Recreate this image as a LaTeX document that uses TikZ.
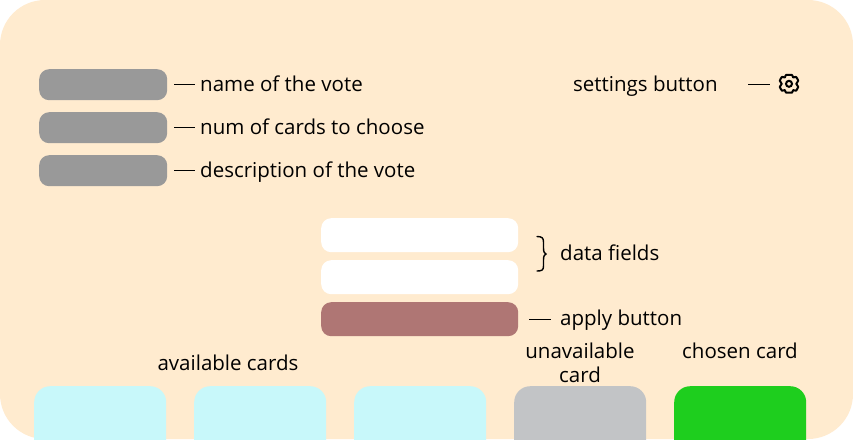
\documentclass[tikz,border=0pt]{standalone}
\usepackage{fontspec}
\setmainfont{Open Sans}
\definecolor{bgc}{HTML}{FFEBCF}
\definecolor{barc}{HTML}{999999}
\definecolor{btnc}{HTML}{AF7674}
\definecolor{cyanc}{HTML}{C8F8FA}
\definecolor{unavc}{HTML}{C2C4C6}
\definecolor{chosenc}{HTML}{1ECE1E}
\tikzset{
  x=1pt,y=-1pt,
  barbox/.style={fill=barc,rounded corners=10pt,minimum width=128pt,minimum height=31pt,inner sep=0pt,anchor=north west},
  fieldbox/.style={fill=white,rounded corners=10pt,minimum width=197pt,minimum height=34pt,inner sep=0pt,anchor=north west},
  lab/.style={font=\fontsize{20.5}{24}\selectfont,inner sep=0pt,text height=14pt,text depth=4pt,anchor=west,text=black},
  clab/.style={font=\fontsize{20.5}{24}\selectfont,inner sep=0pt,align=center,text=black},
  tick/.style={draw=black,line width=1pt},
}
\begin{document}
\begin{tikzpicture}
\useasboundingbox (0,0) rectangle (853,439);
\fill[white] (0,0) rectangle (853,439);
\fill[bgc,rounded corners=45pt] (0,0) rectangle (853,439);
% cards
\begin{scope}
\clip (0,0) rectangle (853,439);
\foreach \n/\xx/\cc in {c1/34/cyanc,c2/194/cyanc,c3/354/cyanc,c4/514/unavc,c5/674/chosenc}{
  \node[fill=\cc,rounded corners=16pt,minimum width=132pt,minimum height=80pt,inner sep=0pt,anchor=north west] (\n) at (\xx,386) {};
}
\end{scope}
% left bars
\node[barbox] (b1) at (39,69) {};
\node[barbox] (b2) at (39,112) {};
\node[barbox] (b3) at (39,155) {};
\node[lab] (l1) at (200,86.3) {name of the vote};
\node[lab] (l2) at (200,129.3) {num of cards to choose};
\node[lab] (l3) at (200,172.3) {description of the vote};
\foreach \i in {1,2,3}{
  \draw[tick] ([xshift=7pt]b\i.east) -- ([xshift=-5pt]b\i.east -| l\i.west);
}
% settings
\node[lab] (l4) at (573,86.3) {settings button};
\coordinate (g) at (789,83.8);
\coordinate (t4) at (748,84.5);
\draw[tick] (t4) -- ++(22,0);
\draw[line width=2pt,line join=round,black]
  plot[smooth cycle,tension=0.25] coordinates {
   (789-3,83.8-8.8) (789+3,83.8-8.8) (789+4.2,83.8-6.3) (789+7.1,83.8-6.9) (789+9.2,83.8-3.1)
   (789+7.3,83.8) (789+9.2,83.8+3.1) (789+7.1,83.8+6.9) (789+4.2,83.8+6.3) (789+3,83.8+8.8)
   (789-3,83.8+8.8) (789-4.2,83.8+6.3) (789-7.1,83.8+6.9) (789-9.2,83.8+3.1)
   (789-7.3,83.8) (789-9.2,83.8-3.1) (789-7.1,83.8-6.9) (789-4.2,83.8-6.3)};
\draw[line width=2pt,black] (g) circle[radius=3pt];
% fields
\node[fieldbox] (f1) at (321,218) {};
\node[fieldbox] (f2) at (321,260) {};
\node[fieldbox,fill=btnc] (f3) at (321,302) {};
\node[lab] (l5) at (560,255.3) {data fields};
\node[lab] (l6) at (560,320.8) {apply button};
\draw[tick] ([xshift=11pt]f3.east) -- ([xshift=-9pt]f3.east -| l6.west);
\draw[line width=1.4pt,black,line cap=round]
  (537,236.5) .. controls (542,236.5) and (543.5,238) .. (543.5,242)
  -- (543.5,248) .. controls (543.5,252) and (544.5,253.5) .. (546,254)
  .. controls (544.5,254.5) and (543.5,256) .. (543.5,260)
  -- (543.5,266) .. controls (543.5,270) and (542,271) .. (537,271);
% card labels
\node[clab] (t1) at (228,363) {available cards};
\node[clab] (t2) at (580,363) {unavailable\\[-0.5pt]card};
\node[clab] (t3) at (740,351) {chosen card};
\end{tikzpicture}
\end{document}
